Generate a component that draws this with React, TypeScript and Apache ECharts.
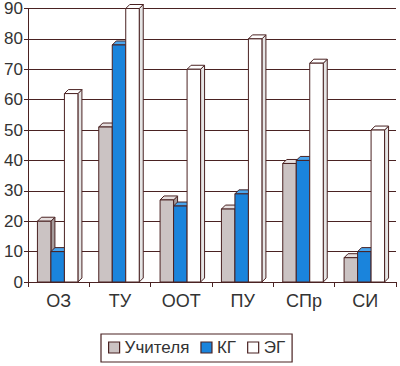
import React, { useEffect, useRef } from "react";
import * as echarts from "echarts";

const categories = ["ОЗ", "ТУ", "ООТ", "ПУ", "СПр", "СИ"];
const seriesNames = ["Учителя", "КГ", "ЭГ"];
const teachers = [20, 51, 27, 24, 39, 8];
const kg = [10, 78, 25, 29, 40, 10];
const eg = [62, 90, 70, 80, 72, 50];
const yTicks = [0, 10, 20, 30, 40, 50, 60, 70, 80, 90];

const seriesData = [teachers, kg, eg];
const fronts = ["#cbc3c3", "#1a84dc", "#ffffff"];
const sides = ["#a59c9c", "#0f5fae", "#e6e6e6"];
const tops = ["#e6dfdf", "#4aa6ee", "#ffffff"];
const stroke = "#4a2222";

export default function App() {
  const ref = useRef<HTMLDivElement>(null);
  useEffect(() => {
    const chart = echarts.init(ref.current!, null, { renderer: "svg" });
    const depth = 4;
    const makeSeries = (si: number) => ({
      type: "custom",
      name: seriesNames[si],
      data: seriesData[si].map((v, i) => [i, v]),
      itemStyle: { color: fronts[si], borderColor: stroke },
      renderItem: (params: any, api: any) => {
        const idx = api.value(0);
        const val = api.value(1);
        const base = api.coord([idx, 0]);
        const topP = api.coord([idx, val]);
        const catW = api.size([1, 0])[0];
        const bw = catW * 0.22;
        const cx = base[0] + (si - 1) * bw - 1;
        const x0 = cx - bw / 2;
        const x1 = cx + bw / 2;
        const y0 = base[1];
        const y1 = topP[1];
        const ls = { stroke, lineWidth: 1 };
        return {
          type: "group",
          children: [
            {
              type: "polygon",
              shape: { points: [[x1, y1], [x1 + depth, y1 - depth], [x1 + depth, y0 - depth], [x1, y0]] },
              style: { fill: sides[si], ...ls },
            },
            {
              type: "polygon",
              shape: { points: [[x0, y1], [x0 + depth, y1 - depth], [x1 + depth, y1 - depth], [x1, y1]] },
              style: { fill: tops[si], ...ls },
            },
            {
              type: "rect",
              shape: { x: x0, y: y1, width: bw, height: y0 - y1 },
              style: { fill: fronts[si], ...ls },
            },
          ],
        };
      },
    });
    chart.setOption({
      animation: false,
      grid: { left: 28, right: 4, top: 6, bottom: 84 },
      legend: {
        bottom: 4,
        left: 101,
        data: seriesNames.map((n, i) => ({
          name: n,
          icon: "rect",
          itemStyle: { color: fronts[i], borderColor: stroke, borderWidth: 1.2 },
        })),
        itemWidth: 11,
        itemHeight: 11,
        itemGap: 11,
        borderColor: stroke,
        borderWidth: 1.2,
        padding: [5, 7, 6, 7],
        textStyle: { fontSize: 17, color: "#333", fontFamily: "Liberation Sans" },
      },
      xAxis: {
        type: "category",
        data: categories,
        axisLine: { lineStyle: { color: stroke, width: 1 } },
        axisTick: { show: true, length: 5, lineStyle: { color: stroke } },
        axisLabel: { fontSize: 18, color: "#333", fontFamily: "Liberation Sans", margin: 10 },
      },
      yAxis: {
        type: "value",
        min: 0,
        max: 90,
        interval: 10,
        axisLine: { show: true, lineStyle: { color: stroke, width: 1 } },
        axisTick: { show: true, length: 4, lineStyle: { color: stroke } },
        axisLabel: {
          fontSize: 17,
          color: "#333",
          fontFamily: "Liberation Sans",
          margin: 5,
          formatter: (v: number) => (yTicks.includes(v) ? String(v) : ""),
        },
        splitLine: { show: true, lineStyle: { color: stroke, width: 1 } },
      },
      series: [0, 1, 2].map(makeSeries),
    });
    return () => chart.dispose();
  }, []);
  return <div ref={ref} style={{ width: 400, height: 366, position: "absolute", left: 0, top: 0 }} />;
}
